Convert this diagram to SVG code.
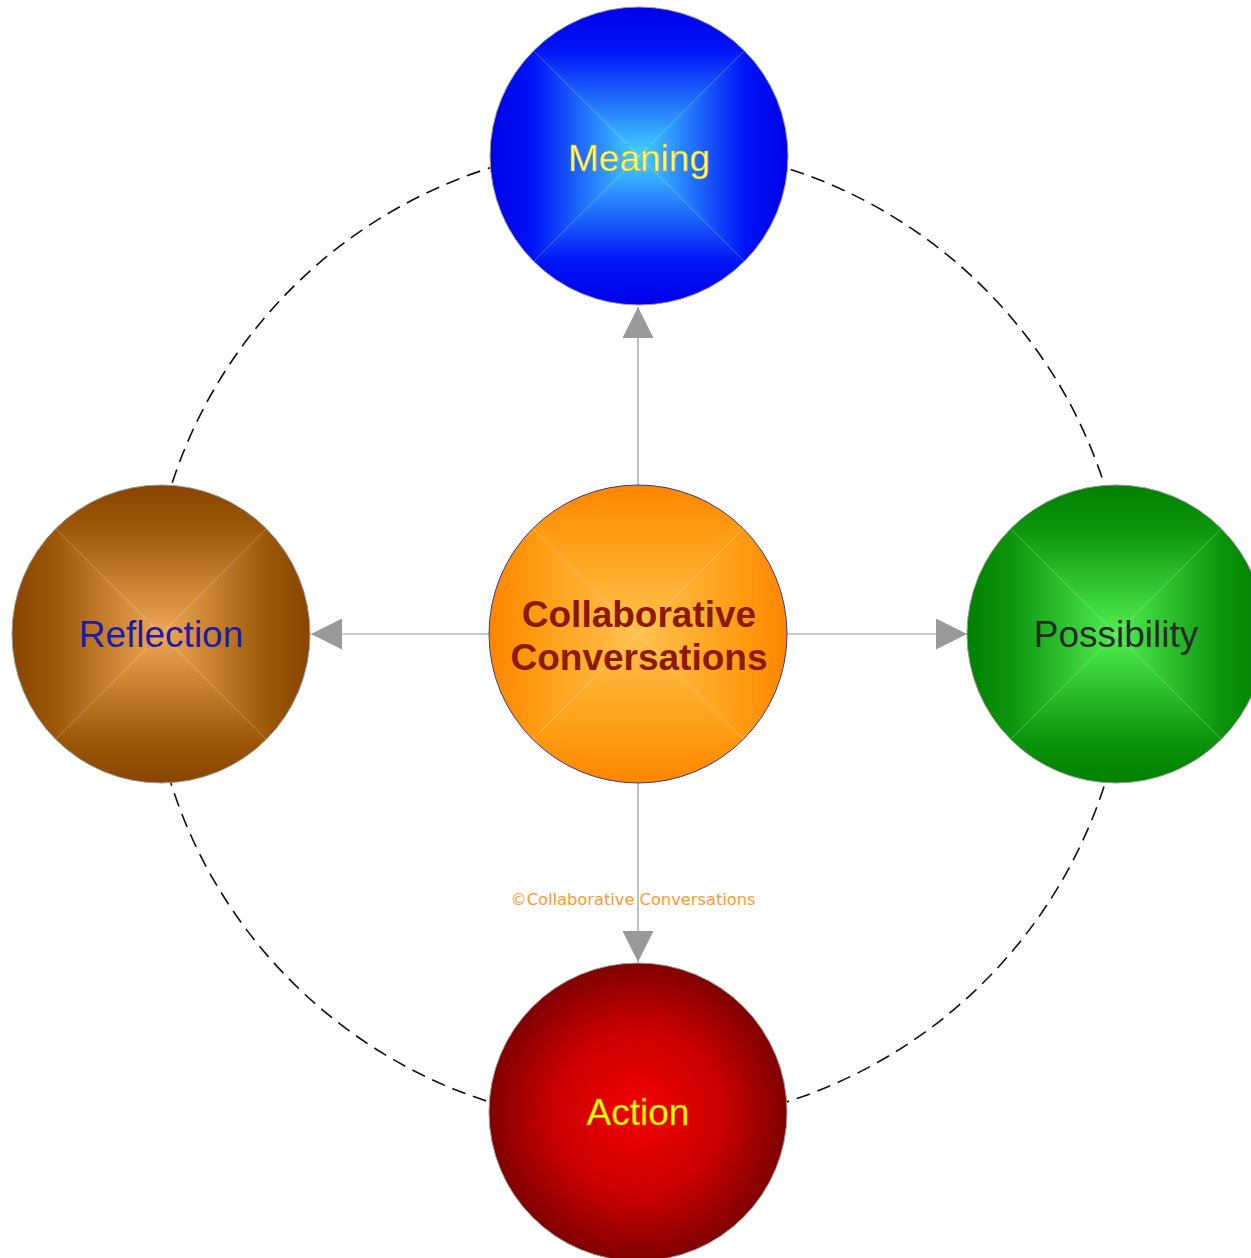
<svg xmlns="http://www.w3.org/2000/svg" xmlns:xlink="http://www.w3.org/1999/xlink" width="1251" height="1258" viewBox="0 0 1251 1258">
<style>
.lbl{font-family:"Liberation Sans",Arial,sans-serif;font-size:37px;text-anchor:middle}
.conn{stroke:#999;stroke-width:1.2;fill:none}
.ring{stroke:#999;stroke-width:1;fill:none}
</style>
<defs>
<clipPath id="clipC"><circle cx="0" cy="0" r="149"/></clipPath>
<marker id="arr" viewBox="0 0 10 10" refX="10" refY="5" markerUnits="userSpaceOnUse" markerWidth="31" markerHeight="31" orient="auto">
<path d="M0,0 L10,5 L0,10 Z" fill="#999"/>
</marker>
<linearGradient id="gBlue" x1="0" y1="0" x2="0" y2="1">
<stop offset="0" stop-color="#0000e8"/><stop offset="0.3" stop-color="#0014f6"/><stop offset="1" stop-color="#44d4ff"/>
</linearGradient>
<linearGradient id="gBrown" x1="0" y1="0" x2="0" y2="1">
<stop offset="0" stop-color="#884400"/><stop offset="0.3" stop-color="#9c5808"/><stop offset="1" stop-color="#f0a855"/>
</linearGradient>
<linearGradient id="gGreen" x1="0" y1="0" x2="0" y2="1">
<stop offset="0" stop-color="#008000"/><stop offset="0.3" stop-color="#0c940c"/><stop offset="1" stop-color="#52ee52"/>
</linearGradient>
<linearGradient id="gOrange" x1="0" y1="0" x2="0" y2="1">
<stop offset="0" stop-color="#ff8400"/><stop offset="0.3" stop-color="#ff9a10"/><stop offset="1" stop-color="#ffc250"/>
</linearGradient>
<radialGradient id="gRed" cx="0.5" cy="0.5" r="0.5">
<stop offset="0" stop-color="#f20000"/><stop offset="0.55" stop-color="#cc0000"/><stop offset="1" stop-color="#800000"/>
</radialGradient>
</defs>

<circle cx="638" cy="635" r="490" fill="none" stroke="#111" stroke-width="1.6" stroke-dasharray="14 8"/>

<g id="connectors">
<line class="conn" x1="638" y1="634" x2="638" y2="307" marker-end="url(#arr)"/>
<line class="conn" x1="638" y1="634" x2="311" y2="634" marker-end="url(#arr)"/>
<line class="conn" x1="638" y1="634" x2="967" y2="634" marker-end="url(#arr)"/>
<line class="conn" x1="638" y1="634" x2="638" y2="962" marker-end="url(#arr)"/>
</g>

<g id="meaning">
<g transform="translate(639,156)" clip-path="url(#clipC)">
<path id="triB" d="M-151,-151 L151,-151 L0,0 Z" fill="url(#gBlue)"/>
<use xlink:href="#triB" transform="rotate(90)"/>
<use xlink:href="#triB" transform="rotate(180)"/>
<use xlink:href="#triB" transform="rotate(270)"/>
</g>
<circle class="ring" cx="639" cy="156" r="149"/>
<text class="lbl" x="639" y="171" fill="#ffff66" stroke="#c8a030" stroke-width="0.5">Meaning</text>
</g>

<g id="reflection">
<g transform="translate(161,634)" clip-path="url(#clipC)">
<path id="triR" d="M-151,-151 L151,-151 L0,0 Z" fill="url(#gBrown)"/>
<use xlink:href="#triR" transform="rotate(90)"/>
<use xlink:href="#triR" transform="rotate(180)"/>
<use xlink:href="#triR" transform="rotate(270)"/>
</g>
<circle class="ring" cx="161" cy="634" r="149"/>
<text class="lbl" x="161" y="647" fill="#1c1ca8">Reflection</text>
</g>

<g id="possibility">
<g transform="translate(1116,634)" clip-path="url(#clipC)">
<path id="triG" d="M-151,-151 L151,-151 L0,0 Z" fill="url(#gGreen)"/>
<use xlink:href="#triG" transform="rotate(90)"/>
<use xlink:href="#triG" transform="rotate(180)"/>
<use xlink:href="#triG" transform="rotate(270)"/>
</g>
<circle class="ring" cx="1116" cy="634" r="149"/>
<text class="lbl" x="1116" y="647" fill="#2a2a2a">Possibility</text>
</g>

<g id="center">
<g transform="translate(638,634)" clip-path="url(#clipC)">
<path id="triO" d="M-151,-151 L151,-151 L0,0 Z" fill="url(#gOrange)"/>
<use xlink:href="#triO" transform="rotate(90)"/>
<use xlink:href="#triO" transform="rotate(180)"/>
<use xlink:href="#triO" transform="rotate(270)"/>
</g>
<circle cx="638" cy="634" r="149" fill="none" stroke="#3a3a8a" stroke-width="1"/>
<text class="lbl" x="639" y="627" fill="#8b1a00" font-weight="bold">Collaborative</text>
<text class="lbl" x="639" y="670" fill="#8b1a00" font-weight="bold">Conversations</text>
</g>

<g id="action">
<circle cx="638" cy="1112" r="149" fill="url(#gRed)" stroke="#999" stroke-width="1"/>
<text class="lbl" x="638" y="1125" fill="#ffff00" stroke="#c89000" stroke-width="0.5">Action</text>
</g>

<text x="633" y="905" font-family="'DejaVu Sans',Verdana,sans-serif" font-size="15" fill="#ff9933" text-anchor="middle" textLength="245" lengthAdjust="spacingAndGlyphs">©Collaborative Conversations</text>
</svg>
